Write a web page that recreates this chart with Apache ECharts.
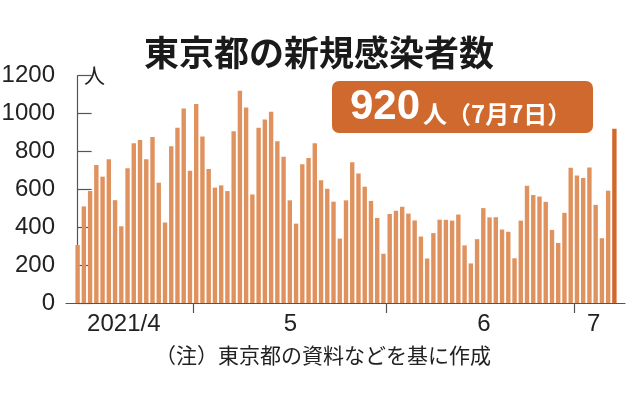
<!DOCTYPE html>
<html><head><meta charset="utf-8">
<script src="https://cdn.jsdelivr.net/npm/echarts@6/dist/echarts.min.js"></script>
<style>html,body{margin:0;padding:0;background:#fff}#c{width:638px;height:395px}</style>
</head><body><div id="c"></div>
<script>
// ---- data ----
const chartTitle = '東京都の新規感染者数';
const noteText = '（注）東京都の資料などを基に作成';
const unitText = '人';
const badgeNumber = '920';
const badgeRest = '人（7月7日）';
// daily new cases from 2021-04-12 to 2021-07-07
const aprilValues = [306, 510, 591, 729, 667, 759, 543, 405, 711, 843, 861, 759, 876, 635, 425, 828, 925, 1027, 698];
const mayValues = [1050, 879, 708, 609, 621, 591, 907, 1121, 1032, 573, 925, 969, 1010, 854, 772, 542, 419, 732, 766, 843, 648, 603, 535, 340, 542, 743, 684, 614, 539, 449, 260];
const juneValues = [470, 487, 508, 472, 436, 351, 235, 369, 440, 439, 435, 467, 304, 209, 337, 501, 452, 453, 388, 376, 236, 435, 619, 570, 562, 534, 386, 317, 476, 714];
const julyValues = [673, 660, 716, 518, 342, 593, 920];
const monthLabels = ['2021/4', '5', '6', '7'];
const yMin = 0, yMax = 1200, yStep = 200;

// ---- derived ----
const values = aprilValues.concat(mayValues, juneValues, julyValues);
const b1 = aprilValues.length - 0.5;
const b2 = b1 + mayValues.length;
const b3 = b2 + juneValues.length;
const monthTicks = [b1, b2, b3];
const monthLabelPos = [7.4, 34.1, 65.1, 82.7];

const barColor = '#E0925E';
const lastColor = '#D2692C';
const fontNum = '"Liberation Sans", Arial, sans-serif';
const fontJP = '"Noto Sans CJK JP", sans-serif';

const chart = echarts.init(document.getElementById('c'));
chart.setOption({
  animation: false,
  backgroundColor: '#fff',
  title: {
    text: chartTitle, left: 'center', top: 30,
    textStyle: { fontSize: 35, fontWeight: 'bold', fontFamily: fontJP, color: '#1a1a1a' }
  },
  grid: { left: 66, right: 13, top: 75.7, bottom: 92, containLabel: false, outerBoundsMode: 'none' },
  xAxis: {
    type: 'value', min: -1.86, max: 87.7,
    axisLine: { show: true, lineStyle: { color: '#555', width: 1.2 } },
    axisTick: { show: true, customValues: monthTicks, length: 10, lineStyle: { color: '#555', width: 1.2 } },
    axisLabel: {
      customValues: monthLabelPos, margin: 9,
      fontSize: 24, fontFamily: fontNum, color: '#222',
      formatter: function (v) {
        let best = 0;
        monthLabelPos.forEach((p, i) => { if (Math.abs(p - v) < Math.abs(monthLabelPos[best] - v)) best = i; });
        return monthLabels[best];
      }
    },
    splitLine: { show: false }
  },
  yAxis: {
    type: 'value', min: yMin, max: yMax, interval: yStep,
    axisLine: { show: true, lineStyle: { color: '#555', width: 1.2 } },
    axisTick: { show: true, inside: true, length: 14, lineStyle: { color: '#555', width: 1.2 } },
    axisLabel: { fontSize: 24, fontFamily: fontNum, color: '#222', margin: 11, formatter: v => String(v) },
    splitLine: { show: false }
  },
  series: [{
    type: 'bar',
    barWidth: 4.4,
    data: values.map((v, i) => i === values.length - 1
      ? { value: [i, v], itemStyle: { color: lastColor } }
      : { value: [i, v] }),
    itemStyle: { color: barColor }
  }],
  graphic: [
    { type: 'text', left: 84, top: 65,
      style: { text: unitText, fontSize: 21, fontFamily: fontJP, fill: '#222' } },
    { type: 'rect', shape: { x: 332, y: 81, width: 261, height: 52, r: 7 },
      style: { fill: '#D0692D' } },
    { type: 'text', x: 350, y: 107,
      style: { text: badgeNumber, fontSize: 42, fontWeight: 'bold', fontFamily: fontNum,
        fill: '#fff', verticalAlign: 'middle', align: 'left' } },
    { type: 'text', x: 423, y: 114,
      style: { text: badgeRest, fontSize: 24, fontWeight: 'bold', fontFamily: fontJP,
        fill: '#fff', verticalAlign: 'middle', align: 'left' } },
    { type: 'text', x: 323, y: 355,
      style: { text: noteText, fontSize: 21, fontFamily: fontJP, fill: '#222', align: 'center', verticalAlign: 'middle' } }
  ]
});
</script>
</body></html>
